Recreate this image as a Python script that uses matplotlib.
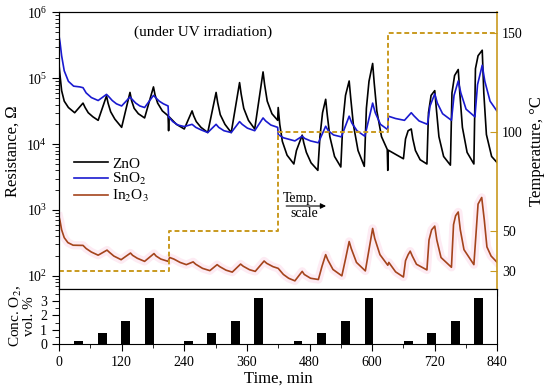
"""
Resistance of ZnO, SnO2 and In2O3 under UV irradiation with O2 pulses
and temperature steps.
"""

import matplotlib
matplotlib.use('Agg')
import matplotlib.pyplot as plt
from matplotlib.ticker import MultipleLocator, LogLocator, NullFormatter

plt.rcParams['font.family'] = ['Liberation Serif', 'DejaVu Serif']
plt.rcParams['mathtext.fontset'] = 'stix'

# ZnO resistance, Ohm
zno_t = [0, 2, 5, 10, 18, 30, 46, 50, 56, 65, 75, 91, 94, 99, 107, 120, 136,
         139, 144, 152, 164, 181, 184, 189, 198, 209, 210, 211, 225, 240,
         255, 258, 263, 272, 285, 301, 304, 309, 318, 330, 346, 349, 354, 363,
         375, 391, 394, 399, 408, 419, 420, 423, 428, 437, 450,
         455, 466, 469, 474, 483, 496, 500, 505, 511, 514, 519, 528, 540, 544,
         549, 556, 559, 564, 573, 585, 589, 594, 601, 604, 609, 618, 629, 630,
         631, 645, 660, 664, 669, 675, 678, 683, 692, 705, 708, 713, 720, 723,
         728, 737, 750, 753, 758, 765, 768, 773, 782, 795, 798, 803, 811, 814,
         819, 829, 839]
zno_r = [1.6e5, 1.1e5, 6.5e4, 4.5e4, 3.6e4, 3.0e4, 4.2e4, 3.6e4, 3.0e4, 2.6e4,
         2.3e4, 5.4e4, 4.2e4, 3.1e4, 2.4e4, 1.8e4, 6.1e4, 4.6e4, 3.5e4, 2.9e4,
         2.5e4, 7.4e4, 5.6e4, 4.2e4, 3.2e4, 2.7e4, 1.6e4, 2.6e4, 2.0e4, 1.7e4,
         3.2e4, 2.7e4, 2.2e4, 1.8e4, 1.5e4, 6.1e4, 4.3e4, 2.8e4, 2.0e4, 1.5e4,
         8.6e4, 5.8e4, 3.5e4, 2.3e4, 1.7e4, 1.25e5, 8e4, 4.5e4, 2.9e4, 2.3e4,
         3.6e4, 2.0e4, 1.1e4, 6.8e3, 5.0e3,
         8e3, 1.37e4, 1.05e4, 7.5e3, 5.2e3, 4.0e3, 1.3e4, 3.0e4, 4.8e4, 2.8e4,
         1.3e4, 6.5e3, 4.5e3, 2.2e4, 5.5e4, 9.1e4, 5.0e4, 2.0e4, 8e3, 4.6e3,
         3.5e4, 9e4, 1.68e5, 8.5e4, 3.2e4, 1.3e4, 8.3e3, 4.0e3, 8.1e3, 7e3,
         6.0e3, 1.2e4, 1.6e4, 1.7e4, 1.2e4, 8e3, 5.8e3, 5.0e3, 3.0e4, 5.5e4,
         6.5e4, 3.5e4, 1.3e4, 6.5e3, 4.8e3, 6e4, 1.1e5, 1.36e5, 6e4, 1.8e4,
         7.5e3, 5e3, 1.4e5, 2.2e5, 2.67e5, 6e4, 1.4e4, 6.5e3, 5.3e3]

# SnO2 resistance, Ohm
sno2_t = [0, 2, 5, 10, 18, 28, 40, 46, 52, 62, 75, 91, 95, 102, 110, 120, 136,
          140, 147, 155, 164, 181, 185, 192, 200, 209, 210, 218, 228, 240, 255,
          262, 272, 285, 301, 306, 316, 330, 346, 351, 361, 375, 391, 396, 406,
          419, 420, 430, 452, 466, 471, 482, 497, 511, 516, 526, 541, 556, 561,
          571, 586, 601, 606, 616, 630, 631, 645, 662, 675, 680, 690, 706, 711,
          720, 725, 735, 752, 757, 765, 770, 780, 797, 802, 811, 816, 826, 839]
sno2_r = [4.4e5, 3.5e5, 2.2e5, 1.3e5, 9.0e4, 7.6e4, 7.4e4, 7.2e4, 6.0e4, 5.1e4,
          4.6e4, 5.7e4, 5.3e4, 4.6e4, 4.1e4, 3.8e4, 5.2e4, 4.8e4, 4.2e4, 3.8e4,
          3.6e4, 5.5e4, 5.1e4, 4.5e4, 4.1e4, 3.8e4, 2.6e4, 2.2e4, 1.95e4,
          1.85e4, 2.0e4, 1.8e4, 1.65e4, 1.5e4, 2.0e4, 1.8e4, 1.6e4, 1.5e4,
          2.2e4, 2.0e4, 1.75e4, 1.6e4, 2.5e4, 2.25e4, 1.95e4, 1.8e4, 1.4e4,
          1.25e4, 1.12e4, 1.32e4, 1.22e4, 1.12e4, 1.05e4, 1.87e4, 1.6e4,
          1.38e4, 1.29e4, 2.66e4, 2.1e4, 1.6e4, 1.32e4, 4.2e4, 3.0e4, 2.0e4,
          1.66e4, 2.66e4, 2.45e4, 2.3e4, 3.0e4, 2.7e4, 2.25e4, 2.0e4, 3.8e4,
          5.8e4, 4.2e4, 2.9e4, 2.3e4, 5.5e4, 9.1e4, 6e4, 3.4e4, 2.6e4, 8e4,
          1.58e5, 9e4, 4.5e4, 3.2e4]

# In2O3 resistance, Ohm
in2o3_t = [0, 2, 5, 10, 17, 27, 46, 52, 62, 75, 92, 96, 105, 119, 137, 141,
           150, 164, 182, 186, 195, 209, 212, 220, 232, 244, 257, 262, 275, 289,
           303, 308, 320, 332, 348, 353, 365, 376, 393, 398, 410, 420, 430, 440,
           452, 466, 470, 482, 497, 504, 511, 515, 525, 542, 549, 556, 560, 570,
           587, 594, 601, 605, 615, 630, 632, 645, 660, 664, 669, 673, 677, 685,
           705, 709, 714, 720, 724, 732, 752, 756, 760, 765, 769, 776, 795, 803,
           810, 815, 820, 828, 839]
in2o3_r = [790, 680, 500, 380, 320, 292, 290, 260, 230, 206, 246, 230, 200, 176,
           222, 205, 185, 166, 218, 200, 180, 166, 190, 180, 160, 148, 163, 150,
           130, 120, 148, 138, 122, 114, 151, 140, 124, 117, 168, 155, 138, 130,
           105, 92, 84, 117, 105, 92, 88, 140, 210, 175, 125, 100, 180, 332, 260,
           160, 119, 250, 525, 370, 210, 145, 160, 115, 96, 170, 210, 237, 200,
           150, 123, 350, 500, 569, 350, 190, 135, 600, 820, 933, 500, 250, 148,
           1230, 1550, 700, 275, 200, 162]

# temperature program, deg C
temp_t = [0, 210, 420, 630, 840]
temp_c = [30, 50, 100, 150, 150]

# O2 pulses
o2_t = [38, 83, 128, 173, 248, 293, 338, 383,
        458, 503, 549, 594, 669, 714, 759, 804]
o2_conc = [0.2, 0.8, 1.6, 3.2, 0.2, 0.8, 1.6, 3.2,
           0.2, 0.8, 1.6, 3.2, 0.2, 0.8, 1.6, 3.2]

TEMP_COLOR = '#c99a1f'


def main():
    fig = plt.figure(figsize=(5.5, 3.89), dpi=100)
    ax = fig.add_axes([0.1073, 0.257, 0.797, 0.711])
    ax_b = fig.add_axes([0.1073, 0.1157, 0.797, 0.1414], sharex=ax)

    # resistance curves
    ax.plot(in2o3_t, in2o3_r, color='#fdebf3', lw=6, zorder=1)
    ax.plot(zno_t, zno_r, color='black', lw=1.2, label='ZnO', zorder=3)
    ax.plot(sno2_t, sno2_r, color='#1a1ad0', lw=1.2, label='SnO$_2$', zorder=3)
    ax.plot(in2o3_t, in2o3_r, color='#a4441c', lw=1.2, label='In$_2$O$_3$', zorder=3)
    ax.set_yscale('log')
    ax.set_ylim(10 ** 1.8, 1e6)
    ax.set_xlim(0, 840)
    ax.yaxis.set_major_locator(LogLocator(base=10, numticks=10))
    ax.yaxis.set_minor_locator(LogLocator(base=10, subs=range(2, 10), numticks=20))
    ax.yaxis.set_minor_formatter(NullFormatter())
    ax.set_ylabel('Resistance, Ω', fontsize=12, labelpad=4)
    ax.tick_params(axis='x', which='both', labelbottom=False, direction='out')
    ax.tick_params(axis='y', which='both', direction='out', labelsize=10)
    ax.tick_params(which='major', length=5)
    ax.tick_params(which='minor', length=3)
    ax.spines['right'].set_visible(False)

    ax.legend(loc='upper left', bbox_to_anchor=(0.02, 0.50), frameon=False,
              fontsize=11, handlelength=2.2, labelspacing=0.05, handletextpad=0.3,
              borderaxespad=0)
    ax.text(276, 10 ** 5.7, '(under UV irradiation)', ha='center', va='center',
            fontsize=11)
    ax.annotate('', xy=(517, 1150), xytext=(430, 1150),
                arrowprops=dict(arrowstyle='-|>', color='black', lw=0.8,
                                mutation_scale=8))
    ax.text(462, 1480, 'Temp.', ha='center', va='center', fontsize=10)
    ax.text(470, 870, 'scale', ha='center', va='center', fontsize=10)

    # temperature on the right axis
    ax2 = ax.twinx()
    ax2.step(temp_t, temp_c, where='post', color=TEMP_COLOR, lw=1.4,
             linestyle=(0, (2.5, 1.5)), zorder=2)
    ax2.set_ylim(20.8, 160.2)
    ax2.set_yticks([30, 50, 100, 150])
    ax2.tick_params(axis='y', direction='in', length=5, colors=TEMP_COLOR,
                    labelcolor='black', labelsize=10)
    ax2.spines['right'].set_color(TEMP_COLOR)
    ax2.spines['right'].set_linewidth(1.2)
    ax2.set_ylabel('Temperature, °C', fontsize=12, labelpad=4)

    # O2 concentration bars
    ax_b.bar(o2_t, o2_conc, width=17, color='black')
    ax_b.set_ylim(0, 3.85)
    ax_b.set_xlim(0, 840)
    ax_b.set_xticks(range(0, 841, 120))
    ax_b.xaxis.set_minor_locator(MultipleLocator(60))
    ax_b.yaxis.set_major_locator(MultipleLocator(1))
    ax_b.yaxis.set_minor_locator(MultipleLocator(0.5))
    ax_b.tick_params(which='both', direction='out', labelsize=10)
    ax_b.tick_params(which='major', length=5)
    ax_b.tick_params(which='minor', length=3)
    ax_b.set_xlabel('Time, min', fontsize=12, labelpad=1)
    ax_b.set_ylabel('Conc. O$_2$,\nvol. %', fontsize=11, labelpad=3,
                    linespacing=0.9)

    fig.savefig('out.png', dpi=100)


if __name__ == '__main__':
    main()
